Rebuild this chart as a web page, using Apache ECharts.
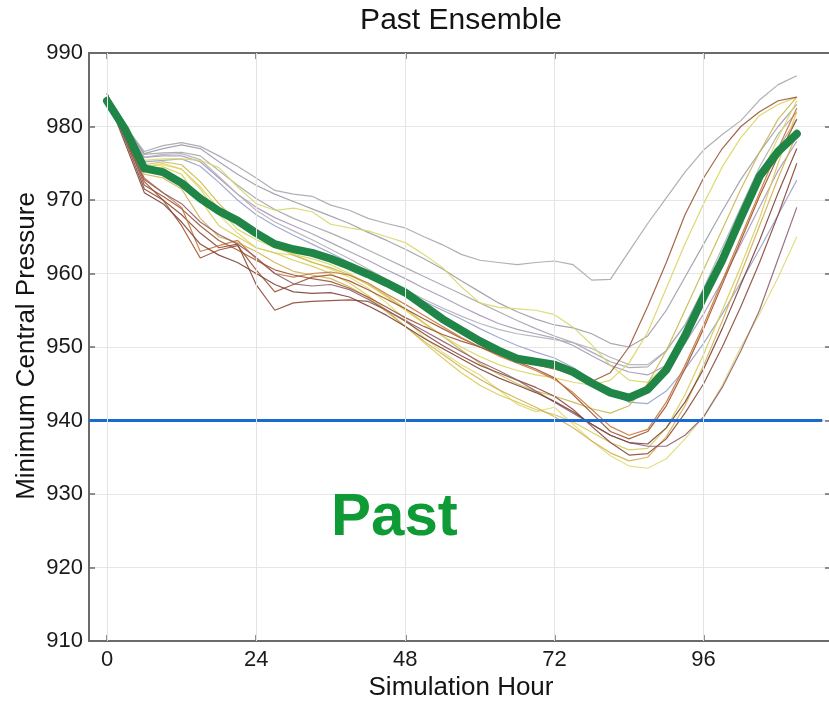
<!DOCTYPE html>
<html>
<head>
<meta charset="utf-8">
<script src="https://cdn.jsdelivr.net/npm/echarts@6/dist/echarts.min.js"></script>
<style>
  html, body { margin: 0; padding: 0; background: #ffffff; }
  #chart { width: 829px; height: 701px; }
</style>
</head>
<body>
<div id="chart"></div>
<script>
// Simulation hours (3-hourly output)
const hours = [0, 3, 6, 9, 12, 15, 18, 21, 24, 27, 30, 33, 36, 39, 42, 45, 48, 51, 54, 57,
               60, 63, 66, 69, 72, 75, 78, 81, 84, 87, 90, 93, 96, 99, 102, 105, 108, 111];

const xTickValues = [0, 24, 48, 72, 96];
const yTickMin = 910;
const yTickMax = 990;
const yTickStep = 10;

// Threshold reference (hPa) and its hour span
const thresholdPressure = 940;
const thresholdHours = [-2.9, 115.1];

// Ensemble mean minimum central pressure (hPa)
const ensembleMean = [983.5, 979.5, 974.3, 973.8, 972.3, 970.2, 968.5, 967.2, 965.5, 964.0,
                      963.3, 962.8, 962.0, 961.0, 959.9, 958.7, 957.4, 955.6, 953.8, 952.3,
                      950.8, 949.5, 948.4, 948.0, 947.6, 946.6, 945.1, 943.8, 943.1, 944.2,
                      946.9, 951.5, 956.8, 961.8, 967.6, 973.2, 976.6, 979.0];

// Individual ensemble members (hPa)
const member01 = [983.5, 980.0, 976.6, 977.4, 977.8, 977.3, 976.0, 974.6, 973.0, 971.3,
                  970.8, 970.5, 969.3, 968.6, 967.5, 966.8, 966.2, 965.0, 963.9, 962.6,
                  961.8, 961.5, 961.2, 961.5, 961.7, 961.2, 959.1, 959.2, 963.0, 966.8,
                  970.3, 973.8, 976.8, 978.9, 980.8, 983.6, 985.7, 986.9];
const member02 = [983.5, 980.0, 976.3, 977.0, 977.5, 977.0, 975.2, 973.5, 972.0, 970.8,
                  969.8, 968.8, 967.8, 966.8, 965.6, 964.5, 963.3, 962.0, 960.6, 959.0,
                  957.5, 956.0, 954.8, 953.8, 953.0, 952.6, 951.8, 950.5, 950.0, 951.5,
                  955.0, 959.5, 964.0, 968.5, 972.8, 976.5, 980.0, 983.0];
const member03 = [983.5, 980.0, 976.2, 976.4, 976.5, 976.0, 974.0, 972.0, 970.2, 968.7,
                  967.5, 966.5, 965.5, 964.4, 963.2, 962.0, 960.8, 959.6, 958.4, 957.2,
                  956.0, 954.8, 953.6, 952.5, 951.5, 950.6, 949.3, 948.0, 947.2, 947.3,
                  949.5, 953.0, 957.5, 962.5, 967.5, 972.5, 977.0, 981.0];
const member04 = [983.5, 980.0, 975.8, 976.0, 976.0, 975.2, 973.0, 970.8, 969.0, 967.6,
                  966.5, 965.4, 964.2, 963.0, 961.8, 960.5, 959.3, 958.0, 956.8, 955.5,
                  954.3, 953.2, 952.4, 951.8, 951.2, 950.2, 948.8, 947.5, 946.6, 946.2,
                  947.5, 950.5, 954.5, 959.0, 964.0, 969.0, 974.0, 978.0];
const member05 = [983.5, 980.0, 975.2, 975.4, 975.6, 974.6, 972.4, 970.0, 968.0, 966.5,
                  965.2, 964.0, 962.8, 961.5, 960.2, 958.8, 957.5, 956.2, 955.0, 953.8,
                  952.5, 951.3, 950.2, 949.3, 948.5, 947.2, 945.5, 943.8, 942.5, 942.3,
                  944.0, 947.0, 950.5, 954.5, 958.8, 963.3, 968.0, 972.7];
const member06 = [983.5, 980.0, 975.8, 976.2, 976.3, 975.5, 973.2, 970.8, 968.6, 967.0,
                  965.8, 964.6, 963.3, 962.0, 960.6, 959.2, 957.8, 956.5, 955.3, 954.2,
                  953.2, 952.4, 951.8, 951.4, 951.0, 950.6, 949.8, 948.6, 947.6, 947.6,
                  949.5, 953.0, 958.0, 963.5, 969.0, 974.5, 979.0, 982.0];
const member07 = [983.5, 979.5, 975.4, 975.6, 975.6, 975.4, 974.4, 971.8, 969.5, 968.6,
                  968.9, 968.4, 966.7, 966.2, 965.8, 965.0, 964.2, 962.6, 960.8, 958.2,
                  956.0, 955.4, 955.2, 955.0, 954.4, 952.7, 950.3, 947.5, 945.5, 945.2,
                  947.5, 951.5, 956.5, 962.0, 967.5, 973.0, 978.5, 983.5];
const member08 = [983.5, 979.0, 974.5, 975.0, 974.2, 971.5, 968.0, 965.5, 963.5, 962.8,
                  962.5, 961.6, 960.6, 959.5, 958.0, 956.0, 953.8, 951.3, 949.3, 947.6,
                  946.2, 944.2, 942.2, 941.2, 941.8, 939.5, 937.2, 935.2, 933.8, 933.5,
                  934.8, 937.5, 940.5, 944.8, 950.0, 954.5, 959.5, 965.0];
const member09 = [983.5, 979.5, 974.0, 974.5, 973.5, 970.0, 966.5, 965.0, 963.5, 962.8,
                  961.8, 961.0, 960.0, 958.7, 957.0, 955.0, 952.8, 950.6, 948.5, 946.5,
                  944.8, 943.5, 942.5, 941.5, 940.8, 939.8, 938.4, 937.0, 936.0, 936.2,
                  939.0, 943.5, 949.0, 955.0, 961.0, 967.5, 975.0, 982.0];
const member10 = [983.5, 979.5, 974.8, 975.2, 974.8, 972.5, 969.5, 967.0, 965.2, 963.8,
                  962.5, 961.5, 960.8, 959.8, 958.5, 957.0, 955.2, 953.3, 951.5, 949.6,
                  947.8, 946.3, 945.0, 944.0, 943.3, 942.5, 941.6, 941.0, 942.0, 945.0,
                  949.5, 955.0, 960.5, 966.0, 971.5, 976.5, 981.0, 984.0];
const member11 = [983.5, 979.5, 974.5, 974.8, 974.2, 971.8, 968.8, 966.0, 964.6, 963.5,
                  962.6, 962.0, 961.2, 960.0, 958.5, 956.8, 955.0, 953.2, 951.5, 950.0,
                  948.7, 947.6, 946.8, 946.2, 945.8, 945.2, 944.8, 945.5, 947.8, 952.0,
                  958.0, 964.0, 969.5, 974.5, 978.5, 981.5, 983.0, 984.0];
const member12 = [983.5, 979.0, 973.5, 973.0, 971.5, 967.5, 965.0, 964.2, 963.0, 961.5,
                  960.3, 959.8, 959.3, 958.2, 956.7, 954.8, 952.8, 950.8, 949.0, 947.2,
                  945.6, 944.2, 943.0, 941.8, 940.5, 939.0, 937.2, 935.6, 934.5, 935.0,
                  937.8, 942.0, 947.5, 953.5, 960.0, 966.5, 973.0, 979.0];
const member13 = [984.5, 978.5, 972.5, 970.0, 966.5, 962.1, 963.2, 963.8, 960.5, 957.5,
                  958.5, 959.5, 959.8, 959.0, 957.8, 956.5, 955.2, 953.8, 952.5, 951.2,
                  950.0, 949.0, 948.0, 947.0, 945.8, 943.5, 941.0, 938.5, 937.5, 938.5,
                  942.0, 947.0, 952.5, 958.5, 964.5, 970.5, 976.0, 981.0];
const member14 = [984.5, 978.0, 971.5, 970.0, 968.0, 965.5, 963.5, 964.0, 958.5, 955.0,
                  956.0, 956.2, 956.3, 956.4, 956.2, 955.0, 953.5, 951.8, 950.2, 948.8,
                  947.5, 946.5, 945.5, 944.5, 943.3, 941.5, 939.2, 937.0, 935.3, 935.5,
                  937.5, 941.0, 945.0, 950.0, 955.5, 961.5, 968.0, 975.0];
const member15 = [984.0, 978.5, 973.0, 971.0, 969.0, 963.0, 963.8, 964.5, 962.0, 960.0,
                  959.5, 960.0, 960.2, 959.8, 958.7, 957.2, 955.8, 954.3, 952.8, 951.3,
                  950.0, 948.8, 947.8, 946.8, 945.6, 943.8, 941.5, 939.2, 938.0, 938.8,
                  942.5, 947.5, 953.0, 959.0, 965.0, 971.0, 977.0, 982.5];
const member16 = [984.0, 978.0, 972.8, 971.0, 969.5, 967.0, 965.3, 964.0, 962.2, 960.0,
                  958.6, 958.3, 958.5, 957.8, 956.5, 955.0, 953.6, 952.2, 950.8, 949.4,
                  948.0, 946.8, 945.5, 944.0, 942.5, 941.0, 939.5, 938.0, 937.0, 936.5,
                  936.5, 938.0, 940.5, 944.5, 949.5, 955.0, 962.0, 969.0];
const member17 = [984.5, 978.5, 972.0, 970.5, 968.8, 966.5, 964.5, 963.2, 961.8, 960.5,
                  959.8, 959.3, 958.9, 958.0, 956.8, 955.4, 954.0, 952.8, 951.7, 950.8,
                  950.0, 949.0, 948.2, 947.6, 947.0, 946.2, 945.3, 946.5, 950.0, 955.5,
                  961.5, 968.0, 973.0, 977.0, 980.0, 982.0, 983.5, 984.0];
const member18 = [984.0, 977.5, 971.0, 969.5, 967.0, 964.0, 962.5, 961.5, 960.0, 958.5,
                  957.5, 957.3, 957.4, 956.8, 955.6, 954.3, 952.8, 951.2, 949.8, 948.4,
                  947.0, 945.8, 944.8, 943.8, 942.6, 941.2, 939.5, 938.0, 937.0, 936.8,
                  939.0, 942.5, 947.0, 952.5, 958.5, 964.5, 971.0, 977.0];

const members = [member01, member02, member03, member04, member05, member06,
                 member07, member08, member09, member10, member11, member12,
                 member13, member14, member15, member16, member17, member18];

// Line colours for each member: greys, yellows, then browns
const memberColors = ['#a6a6b0', '#9c9ca8', '#a4a4ae', '#a898b8', '#98a2c8', '#b0b0b6',
                      '#d8d868', '#e0da78', '#d6cc58', '#c8b850', '#dcd45c', '#d4b050',
                      '#a0522d', '#8b4a3a', '#c87838', '#8e6070', '#9a5535', '#7c4438'];

const axisColor = '#6b6b6b';
const textFont = 'Liberation Sans, Arial, sans-serif';

const toPoints = vals => vals.map((v, i) => [hours[i], v]);

const series = [];

// Vertical grid lines at the labelled hours
series.push({
  type: 'line',
  data: [],
  silent: true,
  z: 1,
  markLine: {
    silent: true,
    symbol: 'none',
    label: { show: false },
    animation: false,
    lineStyle: { color: '#e4e4e4', width: 1, type: 'solid' },
    data: xTickValues.map(v => ({ xAxis: v }))
  }
});

members.forEach((m, i) => {
  series.push({
    type: 'line',
    data: toPoints(m),
    showSymbol: false,
    symbol: 'none',
    silent: true,
    z: 2,
    lineStyle: { color: memberColors[i], width: 1.2, opacity: 0.9 }
  });
});

series.push({
  type: 'line',
  data: toPoints(ensembleMean),
  showSymbol: false,
  symbol: 'none',
  silent: true,
  z: 3,
  lineStyle: { color: '#1f8647', width: 8, join: 'round', cap: 'round' }
});

series.push({
  type: 'line',
  data: thresholdHours.map(h => [h, thresholdPressure]),
  showSymbol: false,
  symbol: 'none',
  silent: true,
  z: 4,
  lineStyle: { color: '#1a6bd1', width: 3 }
});

const chart = echarts.init(document.getElementById('chart'), null, { renderer: 'canvas' });

chart.setOption({
  animation: false,
  backgroundColor: '#ffffff',
  grid: { left: 89, top: 53, width: 742, height: 588, containLabel: false, outerBoundsMode: 'none' },
  xAxis: [{
    type: 'value',
    min: -2.9,
    max: 116.5,
    position: 'bottom',
    axisLine: { show: true, lineStyle: { color: axisColor, width: 2 } },
    axisTick: { show: true, inside: true, length: 6, customValues: xTickValues, lineStyle: { color: axisColor, width: 1.5 } },
    axisLabel: { show: true, customValues: xTickValues, margin: 8, fontSize: 22, fontFamily: textFont, color: '#1a1a1a' },
    splitLine: { show: false }
  }, {
    type: 'value',
    min: -2.9,
    max: 116.5,
    position: 'top',
    axisLine: { show: true, onZero: false, lineStyle: { color: axisColor, width: 2 } },
    axisTick: { show: true, inside: true, length: 6, customValues: xTickValues, lineStyle: { color: axisColor, width: 1.5 } },
    axisLabel: { show: false },
    splitLine: { show: false }
  }],
  yAxis: [{
    type: 'value',
    min: yTickMin,
    max: yTickMax,
    interval: yTickStep,
    position: 'left',
    axisLine: { show: true, onZero: false, lineStyle: { color: axisColor, width: 2 } },
    axisTick: { show: true, inside: true, length: 6, lineStyle: { color: axisColor, width: 1.5 } },
    axisLabel: { show: true, margin: 6, fontSize: 22, fontFamily: textFont, color: '#1a1a1a' },
    splitLine: { show: true, lineStyle: { color: '#e6e6e6', width: 1 } }
  }, {
    type: 'value',
    min: yTickMin,
    max: yTickMax,
    interval: yTickStep,
    position: 'right',
    axisLine: { show: true, onZero: false, lineStyle: { color: axisColor, width: 2 } },
    axisTick: { show: true, inside: true, length: 6, lineStyle: { color: axisColor, width: 1.5 } },
    axisLabel: { show: false },
    splitLine: { show: false }
  }],
  graphic: [{
    type: 'text',
    x: 461, y: 21,
    style: { text: 'Past Ensemble', align: 'center', verticalAlign: 'middle', font: '30px ' + textFont, fill: '#141414' }
  }, {
    type: 'text',
    x: 461, y: 688,
    style: { text: 'Simulation Hour', align: 'center', verticalAlign: 'middle', font: '26px ' + textFont, fill: '#141414' }
  }, {
    type: 'text',
    x: 27, y: 346,
    rotation: Math.PI / 2,
    style: { text: 'Minimum Central Pressure', align: 'center', verticalAlign: 'middle', font: '26px ' + textFont, fill: '#141414' }
  }, {
    type: 'text',
    x: 331, y: 488,
    z: 10,
    style: { text: 'Past', align: 'left', verticalAlign: 'top', font: 'bold 60px ' + textFont, fill: '#0e9a35' }
  }],
  series: series
});
</script>
</body>
</html>
